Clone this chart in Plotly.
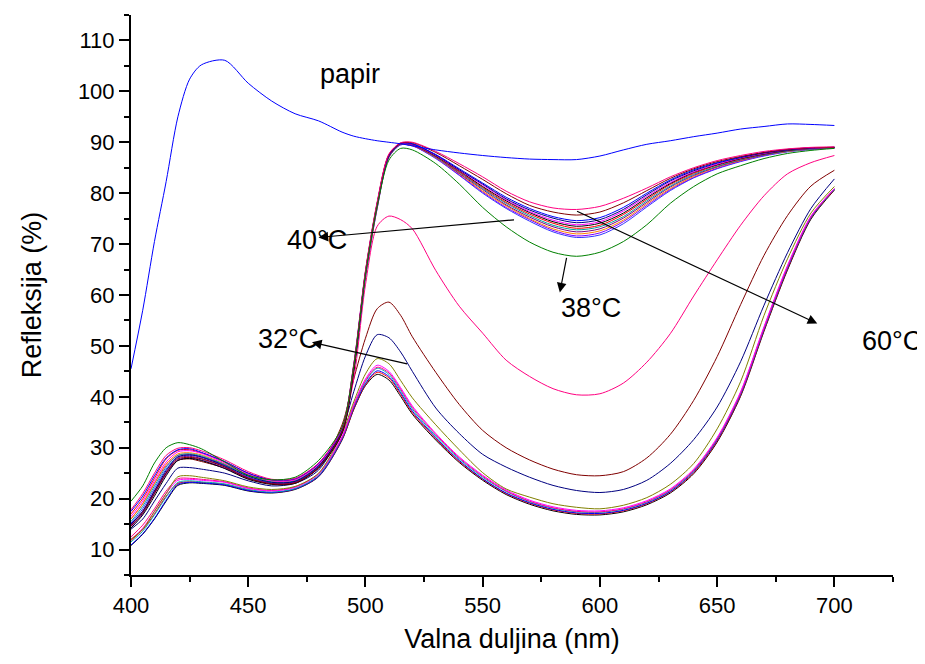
import plotly.graph_objects as go

# Wavelength grid (nm)
WL = [400, 405, 410, 415, 420, 425, 430, 440, 450, 460, 470, 480, 490, 495, 500,
      505, 510, 515, 520, 530, 540, 550, 560, 570, 580, 590, 600, 610, 620, 630,
      640, 650, 660, 670, 680, 690, 700]

# Paper reference
PAPIR = [45.5, 57, 70.5, 82.3, 95, 102.4, 105.2, 106.1, 101.6, 98.1, 95.6, 94.2, 92.0, 91.2, 90.7,
         90.3, 90.0, 89.7, 89.3, 88.5, 87.9, 87.4, 87.0, 86.7, 86.6, 86.6, 87.3, 88.5, 89.6, 90.3,
         91.1, 91.8, 92.6, 93.1, 93.6, 93.5, 93.3]

# Upper cluster (decoloured state)
PT = [17.8, 21, 25, 28.5, 29.9, 30, 29.4, 27.6, 25.3, 23.8, 24, 27, 33.9, 46.4,
      64.8, 78.3, 87.7, 89.9, 90, 88.2, 85.8, 83.2, 80.4, 78.3, 77.1, 76.8, 77.4, 79.0, 81.0, 83.2, 85.0, 86.4, 87.4, 88.2, 88.7, 89.0, 89.1]
WT = [14.6, 17.2, 21, 25, 27.8, 28.1, 27.8, 26.2, 24, 22.9, 23.1, 26.1, 33.1, 45.4,
      64.6, 78.1, 87.6, 89.8, 89.9, 88.0, 85.4, 82.7, 79.9, 77.6, 76.3, 75.7, 76.3, 78.1, 80.5, 82.9, 84.8, 86.2, 87.2, 88.0, 88.6, 88.9, 89.0]
U1 = [17.5, 20.5, 24.5, 28, 29.6, 29.8, 29.1, 27.3, 25, 23.7, 23.9, 26.9, 33.8, 46.3,
      64.5, 78, 87.5, 89.8, 89.7, 87.6, 84.8, 82, 79.2, 77, 75.4, 74.6, 75.2, 77.2, 80, 82.6, 84.6, 86, 87.1, 88, 88.6, 88.9, 89]
U2 = [15, 17.5, 21.5, 25.5, 28.2, 28.6, 28.2, 26.5, 24.4, 23.2, 23.4, 26.4, 33.3, 45.8,
      64.4, 77.9, 87.4, 89.8, 89.7, 87.5, 84.6, 81.8, 78.9, 76.7, 75.1, 74.2, 74.8, 76.8, 79.7, 82.4, 84.4, 85.9, 87.0, 87.9, 88.5, 88.9, 89.0]
U3 = [16.5, 19.5, 23.5, 27.2, 29.2, 29.4, 28.9, 27, 24.8, 23.5, 23.7, 26.7, 33.6, 46,
      64.3, 77.8, 87.4, 89.7, 89.6, 87.4, 84.5, 81.6, 78.7, 76.4, 74.7, 73.8, 74.4, 76.5, 79.4, 82.1, 84.2, 85.7, 86.9, 87.8, 88.5, 88.8, 89.0]
U4 = [14.2, 16.8, 20.5, 24.5, 27.5, 27.9, 27.5, 25.9, 23.8, 22.8, 23.0, 26.0, 32.8, 45,
      64.2, 77.7, 87.3, 89.7, 89.6, 87.3, 84.4, 81.3, 78.5, 76.2, 74.4, 73.5, 74.1, 76.1, 79.1, 81.9, 84.1, 85.6, 86.8, 87.7, 88.4, 88.8, 89.0]
U5 = [17, 20, 24, 27.8, 29.5, 29.6, 29.0, 27.2, 25, 23.6, 23.8, 26.8, 33.7, 46.2,
      64.1, 77.6, 87.3, 89.7, 89.5, 87.2, 84.2, 81.1, 78.2, 75.9, 74.1, 73.1, 73.7, 75.8, 78.8, 81.7, 83.9, 85.5, 86.7, 87.7, 88.4, 88.8, 89.0]
U6 = [15.5, 18.5, 22.5, 26.2, 28.5, 28.8, 28.4, 26.7, 24.5, 23.3, 23.5, 26.5, 33.4, 45.7,
      64.0, 77.5, 87.2, 89.6, 89.5, 87.1, 84.1, 80.9, 78.0, 75.6, 73.7, 72.8, 73.4, 75.4, 78.5, 81.4, 83.7, 85.3, 86.6, 87.6, 88.3, 88.7, 88.9]
U7 = [14.8, 17.5, 21.2, 25.2, 28, 28.3, 27.9, 26.3, 24.1, 23.0, 23.2, 26.2, 33.0, 45.3,
      63.8, 77.3, 87.2, 89.6, 89.4, 87.1, 83.9, 80.7, 77.7, 75.3, 73.4, 72.4, 73.0, 75.1, 78.2, 81.2, 83.5, 85.2, 86.5, 87.5, 88.3, 88.7, 88.9]
U8 = [16, 19, 23, 26.8, 28.8, 29, 28.6, 26.8, 24.6, 23.4, 23.6, 26.6, 33.5, 45.9,
      63.7, 77.2, 87.1, 89.6, 89.4, 87.0, 83.8, 80.4, 77.5, 75.0, 73.0, 72.0, 72.6, 74.7, 77.9, 80.9, 83.3, 85.1, 86.4, 87.5, 88.2, 88.7, 88.9]
U9 = [14.5, 17, 21, 24.8, 27.6, 28, 27.6, 26, 23.9, 22.9, 23.1, 26.1, 32.9, 45.1,
      63.6, 77.1, 87.1, 89.5, 89.3, 86.9, 83.6, 80.2, 77.2, 74.8, 72.7, 71.6, 72.2, 74.4, 77.6, 80.7, 83.1, 84.9, 86.3, 87.4, 88.2, 88.6, 88.9]
U10 = [15.2, 18, 22, 25.8, 28.2, 28.5, 28.1, 26.4, 24.2, 23.1, 23.3, 26.3, 33.2, 45.5,
       63.5, 77, 87, 89.5, 89.3, 86.8, 83.5, 80, 77, 74.5, 72.4, 71.3, 71.8, 74, 77.3, 80.5, 83, 84.8, 86.2, 87.3, 88.1, 88.6, 88.9]
G38 = [19.5, 22.5, 27, 30, 31, 30.6, 29.8, 27.2, 24.6, 23.7, 24.2, 27.5, 34, 46,
       64, 77.5, 86.5, 88.8, 88.5, 85.8, 81.8, 77.2, 73.4, 70.4, 68.4, 67.6, 68.4, 70.5, 73.8, 78, 81.3, 83.8, 85.4, 86.8, 87.8, 88.4, 88.8]

# Transition curves
PINK = [16, 19, 23, 26.5, 28.5, 28.7, 28.2, 26.7, 24.7, 23.3, 23.5, 26.3, 34, 43.5,
        62, 73.5, 75.5, 74.8, 73, 64.8, 57.8, 52.5, 47.2, 44, 41.6, 40.4, 40.6, 42.7, 46.8, 52.4, 59.8, 66.9, 73.7, 79.5, 83.8, 86, 87.4]
WINE = [15, 17.5, 21.5, 25, 27.5, 27.8, 27.3, 26, 24, 23, 23.4, 26, 34.5, 43.5,
        51.5, 57.3, 58.6, 56, 51.8, 44.8, 38.5, 33.4, 30, 27.6, 25.8, 24.7, 24.5, 25.3, 28.0, 32.6, 39.3, 47.9, 58.1, 67.8, 75.6, 81.4, 84.5]
NAVY = [14, 16, 19.5, 23, 26, 26.1, 25.8, 25, 23.5, 22.5, 23, 25.6, 33.5, 41,
        48, 52.2, 51.6, 48.8, 45.0, 37.8, 32.8, 28.7, 26.2, 24.2, 22.6, 21.6, 21.2, 21.8, 23.6, 26.9, 31.6, 38, 46.9, 58, 68.3, 77, 82.8]
OLIVE = [12, 14, 17.5, 21, 24.3, 24.5, 24.2, 23.5, 22.3, 21.8, 22.4, 25, 32.8, 39,
         44.5, 47.5, 46.5, 43.2, 39.8, 34.5, 29.6, 25.1, 21.9, 20.3, 19.0, 18.3, 18.0, 18.7, 20.2, 22.8, 26.9, 33.7, 43.0, 56.0, 67.1, 76.1, 81.3]

# Lower cluster (coloured state)
L1 = [12, 14.2, 17.5, 21, 23.6, 23.8, 23.6, 23.2, 22.0, 21.5, 22.2, 24.8, 32.2, 38.5,
      43.5, 46.2, 45, 41.8, 38.2, 32.8, 28.2, 24.6, 21.7, 19.7, 18.4, 17.7, 17.6, 18.2, 19.6, 21.9, 25.8, 32, 41, 53.8, 65.8, 75.5, 80.9]
L2 = [11.5, 13.6, 16.8, 20.3, 23.2, 23.5, 23.3, 22.9, 21.8, 21.3, 22.0, 24.6, 31.9, 38.1,
      43.0, 45.6, 44.4, 41.2, 37.6, 32.3, 27.8, 24.2, 21.4, 19.4, 18.1, 17.4, 17.3, 17.9, 19.3, 21.6, 25.5, 31.7, 40.7, 53.5, 65.5, 75.3, 80.8]
L3 = [10.9, 13.1, 16.1, 19.7, 22.8, 23.2, 23.1, 22.7, 21.6, 21.2, 21.9, 24.4, 31.7, 37.8,
      42.6, 45.1, 44.0, 40.8, 37.2, 32.0, 27.5, 23.9, 21.1, 19.2, 17.9, 17.2, 17.1, 17.7, 19.1, 21.4, 25.3, 31.5, 40.5, 53.3, 65.3, 75.2, 80.8]
L4 = [11.8, 13.9, 17, 20.5, 23, 23.3, 23.2, 22.8, 21.7, 21.2, 21.9, 24.4, 31.6, 37.6,
      42.4, 44.8, 43.7, 40.5, 36.9, 31.8, 27.3, 23.8, 21.0, 19.1, 17.8, 17.1, 17.0, 17.6, 19.0, 21.3, 25.1, 31.3, 40.3, 53.1, 65.1, 75.1, 80.7]
L5 = [10.8, 13.0, 16.0, 19.5, 22.6, 23.1, 23.0, 22.6, 21.5, 21.1, 21.8, 24.3, 31.5, 37.5,
      42.2, 44.4, 43.3, 40.1, 36.6, 31.5, 27.1, 23.6, 20.8, 18.9, 17.6, 16.9, 16.8, 17.4, 18.8, 21.1, 24.9, 31.1, 40.1, 52.9, 64.9, 74.9, 80.6]
L6 = [12.5, 14.8, 18, 21.5, 23.9, 24, 23.8, 23.3, 22.1, 21.6, 22.3, 24.9, 32.0, 38.2,
      43.2, 45.8, 44.7, 41.5, 37.9, 32.6, 28.0, 24.4, 21.5, 19.5, 18.2, 17.5, 17.4, 18.0, 19.4, 21.7, 25.6, 31.8, 40.8, 53.6, 65.6, 75.4, 80.9]

SERIES = [
    ("L5", L5, "#000000"), ("L4", L4, "#FF0000"), ("L3", L3, "#0000FF"),
    ("L2", L2, "#00B0B0"), ("L6", L6, "#FF0080"), ("L1", L1, "#FF00FF"),
    ("olive", OLIVE, "#808000"), ("navy", NAVY, "#000080"), ("wine", WINE, "#800000"),
    ("pink", PINK, "#FF0080"),
    ("U10", U10, "#3333FF"), ("U9", U9, "#8000FF"), ("U8", U8, "#FF8000"),
    ("U7", U7, "#800080"), ("U6", U6, "#00A0A0"), ("U5", U5, "#FF0000"),
    ("U4", U4, "#000000"), ("U3", U3, "#FF00FF"), ("U2", U2, "#000080"),
    ("U1", U1, "#0000FF"), ("WT", WT, "#800000"), ("PT", PT, "#FF0080"),
    ("G38", G38, "#008000"),
    ("papir", PAPIR, "#0000FF"),
]

fig = go.Figure()
for name, vals, col in SERIES:
    fig.add_trace(go.Scatter(x=WL, y=vals, mode="lines", name=name,
                             line=dict(color=col, width=1, shape="spline", smoothing=0.8),
                             showlegend=False, hoverinfo="x+y"))

FONT = "Liberation Sans, Arial, sans-serif"

# Text labels
LABELS = [("papir", 493.6, 103.4), ("40°C", 479.2, 70.8), ("32°C", 467.1, 51.3),
          ("38°C", 596.0, 57.4), ("60°C", 724.5, 51.0)]
# Arrows: (tail x, tail y, head x, head y)
ARROWS = [(564.0, 74.8, 480.0, 71.3), (518.4, 46.4, 477.2, 50.7),
          (585.9, 67.6, 582.9, 60.5), (589.6, 76.6, 692.7, 54.4)]

anns = []
for t, x, y in LABELS:
    anns.append(dict(x=x, y=y, xref="x", yref="y", text=t, showarrow=False,
                     font=dict(family=FONT, size=27, color="black")))
for tx, ty, hx, hy in ARROWS:
    anns.append(dict(x=hx, y=hy, ax=tx, ay=ty, xref="x", yref="y", axref="x", ayref="y",
                     text="", showarrow=True, arrowhead=2, arrowsize=1.6,
                     arrowwidth=1.2, arrowcolor="black"))

fig.update_layout(
    width=925, height=664,
    margin=dict(l=123, r=40, t=7, b=97),
    plot_bgcolor="white", paper_bgcolor="white",
    font=dict(family=FONT, size=22, color="black"),
    annotations=anns,
    xaxis=dict(range=[400, 725], tickmode="array", tickvals=[400, 450, 500, 550, 600, 650, 700],
               ticks="outside", ticklen=10, tickwidth=2, tickcolor="black",
               showline=True, linewidth=2, linecolor="black", showgrid=False, zeroline=False,
               minor=dict(tickvals=[425, 475, 525, 575, 625, 675, 725], ticks="outside",
                          ticklen=5, tickwidth=2, tickcolor="black", showgrid=False),
               tickfont=dict(size=22), ticklabelstandoff=0,
               title=dict(text="Valna duljina (nm)", font=dict(size=27), standoff=12)),
    yaxis=dict(range=[5, 115], tickmode="array", tickvals=list(range(10, 111, 10)),
               ticks="outside", ticklen=10, tickwidth=2, tickcolor="black",
               showline=True, linewidth=2, linecolor="black", showgrid=False, zeroline=False,
               minor=dict(tickvals=list(range(5, 116, 10)), ticks="outside",
                          ticklen=5, tickwidth=2, tickcolor="black", showgrid=False),
               tickfont=dict(size=22), ticklabelstandoff=0,
               title=dict(text="Refleksija (%)", font=dict(size=27), standoff=28)),
)

fig.write_html("out.html")
